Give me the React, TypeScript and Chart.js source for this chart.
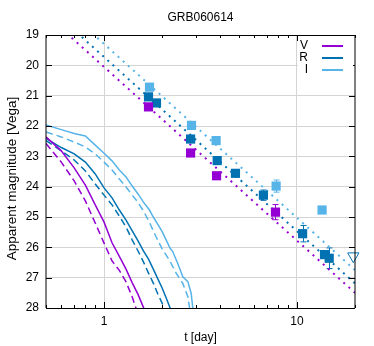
import React, { useEffect, useRef } from 'react';
import { Chart, registerables } from 'chart.js';

Chart.register(...registerables);

const TITLE = 'GRB060614';
const X_TITLE = 't [day]';
const Y_TITLE = 'Apparent magnitude [Vega]';
const X_TICKS = [0.5, 0.6, 0.7, 0.8, 0.9, 1, 2, 3, 4, 5, 6, 7, 8, 9, 10, 20];
const X_LABELED = [1, 10];
const Y_MIN = 19;
const Y_MAX = 28;

const COL_V = '#9400d3';
const COL_R = '#0072b2';
const COL_I = '#56b4e9';
const GRID = '#d4d4d4';

// observed photometry (error 0 = bar hidden inside the marker)
const V_T = [1.7, 2.81, 3.83, 7.74];
const V_MAG = [21.37, 22.89, 23.64, 24.84];
const V_ERR = [0, 0, 0, 0.25];

const R_T = [1.7, 1.87, 2.81, 3.86, 4.8, 6.7, 10.7, 13.9, 14.7];
const R_MAG = [21.04, 21.24, 22.43, 23.14, 23.56, 24.28, 25.55, 26.24, 26.36];
const R_ERR = [0, 0, 0, 0, 0, 0.17, 0.27, 0, 0.34];

const I_T = [1.72, 2.84, 3.81, 7.8, 13.5];
const I_MAG = [20.72, 21.98, 22.48, 23.98, 24.77];
const I_ERR = [0, 0, 0, 0.2, 0];

// upper limit
const UL_T = [19.6];
const UL_MAG = [26.29];

// power-law fits (end points at t = 0.5 and t = 20)
const FIT_T = [0.5, 20];
const FIT_V = [18.33, 27.5];
const FIT_R = [18.0, 27.19];
const FIT_I = [17.57, 26.75];

// model curves
const MV_SOLID_T = [0.5, 0.6, 0.7, 0.8, 0.9, 1.0, 1.1, 1.2, 1.3, 1.4, 1.5, 1.6, 1.65];
const MV_SOLID = [22.36, 22.82, 23.38, 23.95, 24.6, 25.17, 25.85, 26.3, 26.72, 27.17, 27.55, 27.98, 28.2];
const MV_DASH_T = [0.5, 0.6, 0.7, 0.8, 0.9, 1.0, 1.1, 1.2, 1.3, 1.4, 1.45, 1.5];
const MV_DASH = [22.58, 23.19, 23.81, 24.47, 25.2, 25.86, 26.45, 26.76, 27.14, 27.64, 27.93, 28.17];

const MR_SOLID_T = [0.5, 0.6, 0.7, 0.8, 0.9, 1.0, 1.1, 1.2, 1.3, 1.4, 1.5, 1.6, 1.7, 1.8, 1.9, 2.0, 2.1, 2.2, 2.25];
const MR_SOLID = [22.41, 22.71, 22.92, 23.19, 23.58, 24.04, 24.37, 24.77, 25.1, 25.46, 25.79, 26.12, 26.39, 26.72, 27.04, 27.34, 27.67, 28.0, 28.15];
const MR_DASH_T = [0.5, 0.6, 0.7, 0.8, 0.9, 1.0, 1.1, 1.2, 1.3, 1.4, 1.5, 1.6, 1.7, 1.8, 1.9, 2.0, 2.1];
const MR_DASH = [22.48, 22.82, 23.12, 23.48, 23.91, 24.28, 24.6, 24.97, 25.33, 25.76, 26.12, 26.48, 26.85, 27.18, 27.54, 27.84, 28.13];

const MI_SOLID_T = [0.5, 0.6, 0.7, 0.8, 0.9, 1.0, 1.1, 1.2, 1.3, 1.4, 1.5, 1.6, 1.72, 1.8, 1.9, 2.0, 2.14, 2.2, 2.27, 2.41, 2.56, 2.72, 2.83, 2.88, 2.92];
const MI_SOLID = [21.97, 22.12, 22.25, 22.33, 22.63, 22.9, 23.15, 23.45, 23.68, 23.98, 24.24, 24.51, 24.77, 25.0, 25.24, 25.48, 25.87, 26.03, 26.14, 26.53, 26.97, 27.13, 27.52, 27.96, 28.2];
const MI_DASH_T = [0.5, 0.6, 0.7, 0.8, 0.9, 1.0, 1.1, 1.2, 1.3, 1.4, 1.5, 1.6, 1.72, 1.86, 2.0, 2.18, 2.37, 2.56, 2.72, 2.77, 2.82];
const MI_DASH = [22.2, 22.36, 22.53, 22.69, 22.92, 23.19, 23.45, 23.75, 24.01, 24.28, 24.52, 24.8, 25.18, 25.65, 26.05, 26.42, 26.86, 27.19, 27.63, 27.96, 28.2];

const LEGEND = [
  { label: 'V', color: COL_V },
  { label: 'R', color: COL_R },
  { label: 'I', color: COL_I },
];

const FONT = "'Liberation Sans', Arial, sans-serif";

const pts = (t: number[], m: number[]) => t.map((v, i) => ({ x: v, y: m[i] }));

const pointSet = (t: number[], m: number[], color: string) => ({
  data: pts(t, m),
  showLine: false,
  pointStyle: 'rect',
  pointRadius: 6.5,
  pointBorderWidth: 0,
  backgroundColor: color,
  borderColor: color,
  clip: false as const,
  order: 0,
});

const curve = (t: number[], m: number[], color: string, dash: number[]) => ({
  data: pts(t, m),
  borderColor: color,
  borderWidth: 1.5,
  borderDash: dash,
  pointRadius: 0,
  tension: 0,
  fill: false,
  clip: 0,
  order: 3,
});

const fitLine = (m: number[], color: string) => ({
  data: pts(FIT_T, m),
  borderColor: color,
  borderWidth: 2,
  borderDash: [2, 4.9],
  pointRadius: 0,
  tension: 0,
  fill: false,
  clip: 0,
  order: 2,
});

const errorBarPlugin = {
  id: 'errorBars',
  beforeDatasetsDraw(chart: any) {
    const { ctx, scales } = chart;
    const xs = scales.x;
    const ys = scales.y;
    const groups = [
      { t: V_T, m: V_MAG, e: V_ERR, c: COL_V },
      { t: R_T, m: R_MAG, e: R_ERR, c: COL_R },
      { t: I_T, m: I_MAG, e: I_ERR, c: COL_I },
    ];
    ctx.save();
    ctx.lineWidth = 1;
    for (const g of groups) {
      ctx.strokeStyle = g.c;
      g.t.forEach((t, i) => {
        if (!(g.e[i] > 0)) return;
        const x = Math.round(xs.getPixelForValue(t)) + 0.5;
        const y1 = ys.getPixelForValue(g.m[i] - g.e[i]);
        const y2 = ys.getPixelForValue(g.m[i] + g.e[i]);
        ctx.beginPath();
        ctx.moveTo(x, y1);
        ctx.lineTo(x, y2);
        ctx.moveTo(x - 3, y1);
        ctx.lineTo(x + 3, y1);
        ctx.moveTo(x - 3, y2);
        ctx.lineTo(x + 3, y2);
        ctx.stroke();
      });
    }
    ctx.restore();
  },
};

const framePlugin = {
  id: 'frame',
  afterDatasetsDraw(chart: any) {
    const { ctx, chartArea, scales } = chart;
    const { left, right, top, bottom } = chartArea;
    const xs = scales.x;
    const ys = scales.y;
    ctx.save();
    ctx.strokeStyle = '#000';
    ctx.lineWidth = 1;
    ctx.beginPath();
    for (const v of X_TICKS) {
      const px = Math.round(xs.getPixelForValue(v)) + 0.5;
      const len = X_LABELED.includes(v) ? 6 : 3;
      ctx.moveTo(px, bottom);
      ctx.lineTo(px, bottom - len);
      ctx.moveTo(px, top);
      ctx.lineTo(px, top + len);
    }
    for (let v = Y_MIN; v <= Y_MAX; v++) {
      const py = Math.round(ys.getPixelForValue(v)) + 0.5;
      ctx.moveTo(left, py);
      ctx.lineTo(left + 6, py);
      ctx.moveTo(right, py);
      ctx.lineTo(right - 6, py);
    }
    ctx.stroke();
    ctx.beginPath();
    ctx.moveTo(left, Math.round(top) + 0.5);
    ctx.lineTo(right, Math.round(top) + 0.5);
    ctx.moveTo(left, Math.round(bottom) + 0.5);
    ctx.lineTo(right, Math.round(bottom) + 0.5);
    ctx.moveTo(left, top);
    ctx.lineTo(left, bottom);
    ctx.moveTo(right, top);
    ctx.lineTo(right, bottom);
    ctx.stroke();

    // legend
    ctx.fillStyle = '#fff';
    ctx.fillRect(right - 57, top + 1.5, 55, 39);
    ctx.font = `12px ${FONT}`;
    ctx.textAlign = 'right';
    ctx.textBaseline = 'middle';
    LEGEND.forEach((item, i) => {
      const y = top + 11 + i * 12;
      ctx.fillStyle = '#000';
      ctx.fillText(item.label, right - 47, y);
      ctx.strokeStyle = item.color;
      ctx.lineWidth = 2;
      ctx.beginPath();
      ctx.moveTo(right - 33, y);
      ctx.lineTo(right - 12, y);
      ctx.stroke();
    });

    // titles
    ctx.fillStyle = '#000';
    ctx.textAlign = 'center';
    ctx.textBaseline = 'middle';
    ctx.font = `12px ${FONT}`;
    ctx.fillText(TITLE, (left + right) / 2, 18);
    ctx.fillText(X_TITLE, (left + right) / 2, 338);
    ctx.save();
    ctx.font = `13.5px ${FONT}`;
    ctx.translate(12.5, 178.5);
    ctx.rotate(-Math.PI / 2);
    ctx.fillText(Y_TITLE, 0, 0);
    ctx.restore();
    ctx.restore();
  },
};

export default function App() {
  const ref = useRef<HTMLCanvasElement>(null);
  useEffect(() => {
    const canvas = ref.current;
    if (!canvas) return;
    Chart.defaults.font.family = FONT;
    Chart.defaults.font.size = 12;
    Chart.defaults.color = '#000';
    const chart = new Chart(canvas, {
      type: 'line',
      data: {
        datasets: [
          pointSet(V_T, V_MAG, COL_V),
          pointSet(R_T, R_MAG, COL_R),
          pointSet(I_T, I_MAG, COL_I),
          {
            data: pts(UL_T, UL_MAG),
            showLine: false,
            pointStyle: 'triangle',
            rotation: 180,
            pointRadius: 6.5,
            pointBorderWidth: 1,
            backgroundColor: 'rgba(0,0,0,0)',
            borderColor: COL_R,
            clip: false,
            order: 0,
          },
          fitLine(FIT_V, COL_V),
          fitLine(FIT_R, COL_R),
          fitLine(FIT_I, COL_I),
          curve(MV_SOLID_T, MV_SOLID, COL_V, []),
          curve(MV_DASH_T, MV_DASH, COL_V, [7, 4]),
          curve(MR_SOLID_T, MR_SOLID, COL_R, []),
          curve(MR_DASH_T, MR_DASH, COL_R, [7, 4]),
          curve(MI_SOLID_T, MI_SOLID, COL_I, []),
          curve(MI_DASH_T, MI_DASH, COL_I, [7, 4]),
        ] as any,
      },
      options: {
        responsive: false,
        animation: false,
        devicePixelRatio: 1,
        events: [],
        layout: { padding: { top: 35, left: 0, right: 19, bottom: 0 } },
        plugins: {
          legend: { display: false },
          title: { display: false },
          tooltip: { enabled: false },
        },
        scales: {
          x: {
            type: 'logarithmic',
            min: 0.5,
            max: 20,
            afterBuildTicks: (s: any) => {
              s.ticks = X_TICKS.map((v) => ({ value: v }));
            },
            afterFit: (s: any) => {
              s.height = 38;
            },
            border: { display: false },
            grid: {
              drawTicks: false,
              color: (c: any) => (c.tick && X_LABELED.includes(c.tick.value) ? GRID : 'rgba(0,0,0,0)'),
            },
            ticks: {
              autoSkip: false,
              maxRotation: 0,
              padding: 6,
              font: { size: 12 },
              color: '#000',
              callback: (v: any) => (X_LABELED.includes(Number(v)) ? String(v) : ''),
            },
          },
          y: {
            type: 'linear',
            min: Y_MIN,
            max: Y_MAX,
            reverse: true,
            afterFit: (s: any) => {
              s.width = 46;
            },
            border: { display: false },
            grid: {
              drawTicks: false,
              color: (c: any) =>
                c.tick && c.tick.value > Y_MIN && c.tick.value < Y_MAX ? GRID : 'rgba(0,0,0,0)',
            },
            ticks: {
              stepSize: 1,
              padding: 7,
              font: { size: 12 },
              color: '#000',
            },
          },
        },
      } as any,
      plugins: [errorBarPlugin, framePlugin],
    });
    return () => chart.destroy();
  }, []);
  return (
    <div style={{ position: 'fixed', left: 0, top: 0, width: 374, height: 346, background: '#fff' }}>
      <canvas ref={ref} width={374} height={346} style={{ width: 374, height: 346, display: 'block' }} />
    </div>
  );
}
